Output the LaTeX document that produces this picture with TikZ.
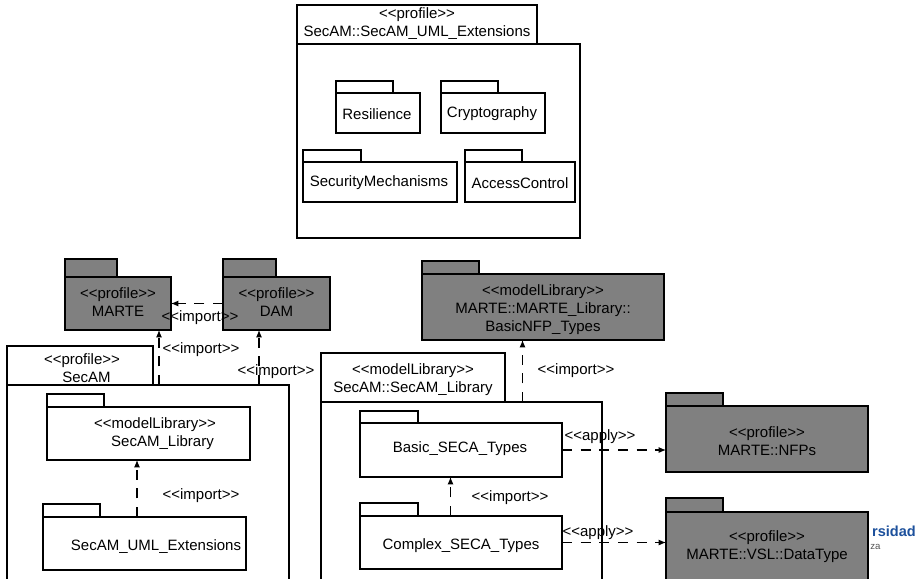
\documentclass[tikz,border=0pt]{standalone}
\usepackage{fontspec}
\newfontfamily\umlfont{Liberation Sans}
\newfontfamily\logofont{Liberation Sans}
\usetikzlibrary{arrows.meta,calc}
\definecolor{pkggray}{RGB}{128,128,128}
\definecolor{logoblue}{RGB}{28,80,156}
\definecolor{logogray}{RGB}{85,85,85}

% one rectangle of a package (tab or body): style, name, x1, y1, x2, y2
\newcommand\pkgpart[6]{%
  \node[#1, minimum width={(#5-#3)*0.75pt}, minimum height={(#6-#4)*0.75pt}] (#2) at (#3,#4) {};}

\tikzset{
  part/.style={draw=black, line width=0.8pt, rectangle, anchor=north west, inner sep=0pt, outer sep=0pt},
  whitepkg/.style={part, fill=white},
  graypkg/.style={part, fill=pkggray},
  txt/.style={font=\umlfont\fontsize{11.25pt}{13.5pt}\selectfont, align=center, inner sep=0pt},
  dep/.style={draw=black, line width=0.8pt, dash pattern=on 7.5pt off 6.5pt,
    -{Latex[length=5.5pt,width=4.5pt]}},
}

\begin{document}
\begin{tikzpicture}[x=0.75pt, y=-0.75pt]
\useasboundingbox (0,0) rectangle (916,578);
\clip (0,0) rectangle (916,578);
\fill[white] (0,0) rectangle (916,578);

% logo lettering at the right edge
\node[anchor=east, inner sep=0pt, text=logoblue,
      font=\logofont\bfseries\fontsize{10.9pt}{12pt}\selectfont] (logoA) at (916,531) {rsidad};
\node[anchor=base west, inner sep=0pt, text=logogray,
      font=\logofont\fontsize{7.2pt}{8pt}\selectfont] (logoB) at (870,549) {za};

% ---- profile SecAM::SecAM_UML_Extensions ----
\pkgpart{whitepkg}{extTab}{297}{5}{537}{44}
\pkgpart{whitepkg}{extBody}{297}{44}{580}{238}
\node[txt] (extT) at (417,24) {<<profile>>\\SecAM::SecAM\_UML\_Extensions};

\pkgpart{whitepkg}{resTab}{336}{81}{393}{93}
\pkgpart{whitepkg}{resBody}{336}{93}{420}{133}
\node[txt] (resT) at (377,114) {Resilience};

\pkgpart{whitepkg}{cryTab}{441}{81}{498}{93}
\pkgpart{whitepkg}{cryBody}{441}{93}{545}{133}
\node[txt] (cryT) at (492,114) {Cryptography};

\pkgpart{whitepkg}{secTab}{303}{150}{361}{162}
\pkgpart{whitepkg}{secBody}{303}{162}{457}{202}
\node[txt] (secT) at (379,183) {SecurityMechanisms};

\pkgpart{whitepkg}{accTab}{465}{150}{522}{162}
\pkgpart{whitepkg}{accBody}{465}{162}{575}{202}
\node[txt] (accT) at (520,183) {AccessControl};

% ---- MARTE and DAM ----
\pkgpart{graypkg}{marteTab}{65}{259}{117}{277}
\pkgpart{graypkg}{marteBody}{65}{277}{171}{330}
\node[txt] (marteT) at (118,302.5) {<<profile>>\\MARTE};

\pkgpart{graypkg}{damTab}{223}{259}{276}{277}
\pkgpart{graypkg}{damBody}{223}{277}{330}{330}
\node[txt] (damT) at (276.5,302.5) {<<profile>>\\DAM};

% ---- profile SecAM ----
\pkgpart{whitepkg}{secamTab}{7}{346}{153}{385}
\pkgpart{whitepkg}{secamBody}{7}{385}{289}{600}
\node[txt] (secamT) at (82,368) {<<profile>>\\\hspace*{0.6em}SecAM};

\pkgpart{whitepkg}{libTab}{47}{394}{104}{407}
\pkgpart{whitepkg}{libBody}{47}{407}{250}{460}
\node[txt] (libT) at (155,434) {<<modelLibrary>>\\\hspace*{1em}SecAM\_Library};

\pkgpart{whitepkg}{umlTab}{43}{504}{100}{517}
\pkgpart{whitepkg}{umlBody}{43}{517}{246}{570}
\node[txt] (umlT) at (156,547) {SecAM\_UML\_Extensions};

% ---- MARTE library and SecAM library ----
\pkgpart{graypkg}{nfpTypesTab}{422}{261}{479}{274}
\pkgpart{graypkg}{nfpTypesBody}{422}{274}{664}{340}
\node[txt] (nfpTypesT) at (543,310) {<<modelLibrary>>\\MARTE::MARTE\_Library::\\BasicNFP\_Types};

\pkgpart{whitepkg}{slibTab}{321}{353}{505}{402}
\pkgpart{whitepkg}{slibBody}{321}{402}{602}{600}
\node[txt] (slibT) at (413,380) {<<modelLibrary>>\\SecAM::SecAM\_Library};

\pkgpart{whitepkg}{basicTab}{360}{411}{418}{423}
\pkgpart{whitepkg}{basicBody}{360}{423}{562}{477}
\node[txt] (basicT) at (460,449) {Basic\_SECA\_Types};

\pkgpart{whitepkg}{cplxTab}{360}{503}{418}{516}
\pkgpart{whitepkg}{cplxBody}{360}{516}{562}{569}
\node[txt] (cplxT) at (461,546) {Complex\_SECA\_Types};

% ---- applied MARTE profiles ----
\pkgpart{graypkg}{nfpsTab}{666}{393}{723}{406}
\pkgpart{graypkg}{nfpsBody}{666}{406}{868}{472}
\node[txt] (nfpsT) at (767,441) {<<profile>>\\MARTE::NFPs};

\pkgpart{graypkg}{dtTab}{666}{498}{723}{512}
\pkgpart{graypkg}{dtBody}{666}{512}{868}{600}
\node[txt] (dtT) at (767,546.5) {<<profile>>\\MARTE::VSL::DataType};

% ---- dependencies ----
\coordinate (mImp) at ($(marteBody.south east)+(-12,0)$);
\coordinate (dImp) at ($(damBody.south)+(-17.5,0)$);
\coordinate (lImp) at ($(libBody.south)+(-11.5,0)$);
\coordinate (nImp) at ($(nfpTypesBody.south)+(-20.5,0)$);
\coordinate (bImp) at ($(basicBody.south)+(-10.5,0)$);

\draw[dep] (damBody.west) -- (damBody.west -| marteBody.east);
\draw[dep] (mImp |- secamBody.north) -- (mImp);
\draw[dep] (dImp |- secamBody.north) -- (dImp);
\draw[dep] (lImp |- umlBody.north) -- (lImp);
\draw[dep] (nImp |- slibBody.north) -- (nImp);
\draw[dep] (bImp |- cplxBody.north) -- (bImp);
\draw[dep] (basicBody.east) -- (basicBody.east -| nfpsBody.west);
\draw[dep] (cplxBody.east) -- (cplxBody.east -| dtBody.west);

\node[txt] (imp1) at (200,318) {<<import>>};
\node[txt] (imp2) at (201,350) {<<import>>};
\node[txt] (imp3) at (276,372) {<<import>>};
\node[txt] (imp4) at (201,496) {<<import>>};
\node[txt] (imp5) at (576,371) {<<import>>};
\node[txt] (imp6) at (510,498) {<<import>>};
\node[txt] (app1) at (600,437) {<<apply>>};
\node[txt] (app2) at (598,533) {<<apply>>};
\end{tikzpicture}
\end{document}
